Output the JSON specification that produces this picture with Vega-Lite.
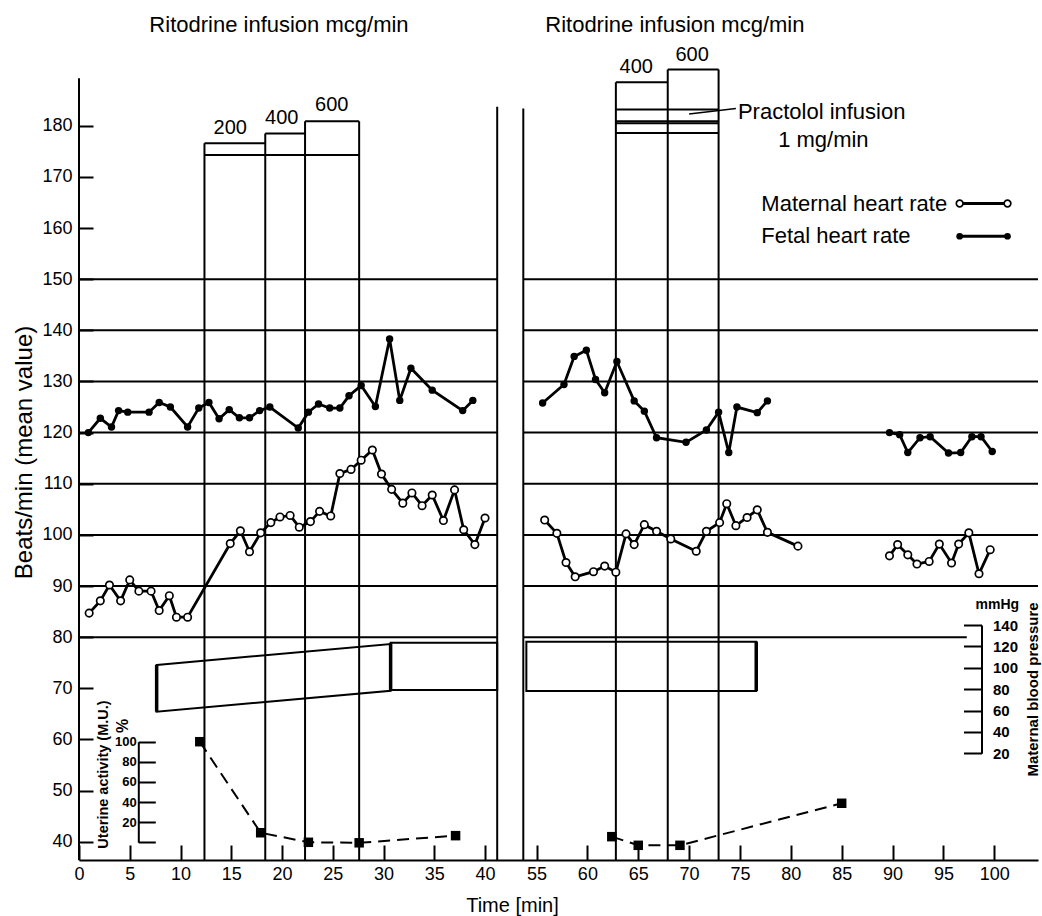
{
  "$schema": "https://vega.github.io/schema/vega-lite/v6.json",
  "width": 959,
  "height": 860,
  "autosize": {"type": "none"},
  "padding": {"left": 79, "top": 0, "right": 4, "bottom": 56},
  "background": "white",
  "config": {
    "view": {"stroke": null},
    "font": "Liberation Sans",
    "axis": {"labelColor": "black", "titleColor": "black", "domainColor": "black", "tickColor": "black", "grid": false}
  },
  "datasets": {
    "hlines": [
      {"t": 0, "t2": 41.2, "b": 80}, {"t": 0, "t2": 41.2, "b": 90}, {"t": 0, "t2": 41.2, "b": 100}, {"t": 0, "t2": 41.2, "b": 110},
      {"t": 0, "t2": 41.2, "b": 120}, {"t": 0, "t2": 41.2, "b": 130}, {"t": 0, "t2": 41.2, "b": 140}, {"t": 0, "t2": 41.2, "b": 150},
      {"t": 53.7, "t2": 97.3, "b": 80}, {"t": 53.7, "t2": 104.3, "b": 90}, {"t": 53.7, "t2": 104.3, "b": 100}, {"t": 53.7, "t2": 104.3, "b": 110},
      {"t": 53.7, "t2": 104.3, "b": 120}, {"t": 53.7, "t2": 104.3, "b": 130}, {"t": 53.7, "t2": 104.3, "b": 140}, {"t": 53.7, "t2": 104.3, "b": 150},
      {"t": 12.36, "t2": 18.35, "b": 176.6}, {"t": 18.35, "t2": 22.27, "b": 178.5}, {"t": 22.27, "t2": 27.6, "b": 180.9}, {"t": 12.36, "t2": 27.6, "b": 174.3},
      {"t": 62.8, "t2": 67.9, "b": 188.5}, {"t": 67.9, "t2": 72.9, "b": 191.0}, {"t": 62.8, "t2": 72.9, "b": 183.2}, {"t": 62.8, "t2": 72.9, "b": 180.9},
      {"t": 62.8, "t2": 72.9, "b": 180.5}, {"t": 62.8, "t2": 72.9, "b": 178.6}
    ],
    "vlines": [
      {"t": 0, "b": 36.42, "b2": 189.3}, {"t": 41.2, "b": 36.42, "b2": 183.7}, {"t": 53.7, "b": 36.42, "b2": 183.4},
      {"t": 12.36, "b": 36.42, "b2": 176.6}, {"t": 18.35, "b": 36.42, "b2": 178.5}, {"t": 22.27, "b": 36.42, "b2": 180.9}, {"t": 27.6, "b": 36.42, "b2": 180.9},
      {"t": 62.8, "b": 36.42, "b2": 188.5}, {"t": 67.9, "b": 36.42, "b2": 191.0}, {"t": 72.9, "b": 36.42, "b2": 191.0}
    ],
    "leader": [{"t": 70.0, "b": 182.3, "t2": 74.6, "b2": 183.4}],
    "fetal": [
      {"t": 0.92, "b": 120, "seg": "L"}, {"t": 2.1, "b": 122.8, "seg": "L"}, {"t": 3.2, "b": 121.1, "seg": "L"}, {"t": 3.9, "b": 124.3, "seg": "L"},
      {"t": 4.8, "b": 124.0, "seg": "L"}, {"t": 6.9, "b": 124.0, "seg": "L"}, {"t": 7.9, "b": 125.9, "seg": "L"}, {"t": 9.0, "b": 125.0, "seg": "L"},
      {"t": 10.7, "b": 121.1, "seg": "L"}, {"t": 11.8, "b": 124.8, "seg": "L"}, {"t": 12.8, "b": 125.9, "seg": "L"}, {"t": 13.8, "b": 122.7, "seg": "L"},
      {"t": 14.8, "b": 124.5, "seg": "L"}, {"t": 15.8, "b": 122.9, "seg": "L"}, {"t": 16.8, "b": 122.9, "seg": "L"}, {"t": 17.8, "b": 124.3, "seg": "L"},
      {"t": 18.8, "b": 125.0, "seg": "L"}, {"t": 21.6, "b": 120.9, "seg": "L"}, {"t": 22.6, "b": 124.0, "seg": "L"}, {"t": 23.6, "b": 125.6, "seg": "L"},
      {"t": 24.7, "b": 124.8, "seg": "L"}, {"t": 25.7, "b": 124.8, "seg": "L"}, {"t": 26.6, "b": 127.2, "seg": "L"}, {"t": 27.8, "b": 129.2, "seg": "L"},
      {"t": 29.2, "b": 125.1, "seg": "L"}, {"t": 30.6, "b": 138.3, "seg": "L"}, {"t": 31.6, "b": 126.3, "seg": "L"}, {"t": 32.7, "b": 132.6, "seg": "L"},
      {"t": 34.8, "b": 128.3, "seg": "L"}, {"t": 37.8, "b": 124.3, "seg": "L"}, {"t": 38.8, "b": 126.3, "seg": "L"},
      {"t": 55.6, "b": 125.8, "seg": "R1"}, {"t": 57.7, "b": 129.4, "seg": "R1"}, {"t": 58.7, "b": 134.9, "seg": "R1"}, {"t": 59.9, "b": 136.1, "seg": "R1"},
      {"t": 60.8, "b": 130.4, "seg": "R1"}, {"t": 61.7, "b": 127.8, "seg": "R1"}, {"t": 62.9, "b": 133.9, "seg": "R1"}, {"t": 64.6, "b": 126.2, "seg": "R1"},
      {"t": 65.6, "b": 124.2, "seg": "R1"}, {"t": 66.8, "b": 119.0, "seg": "R1"}, {"t": 69.7, "b": 118.1, "seg": "R1"}, {"t": 71.7, "b": 120.5, "seg": "R1"},
      {"t": 72.9, "b": 124.0, "seg": "R1"}, {"t": 73.9, "b": 116.1, "seg": "R1"}, {"t": 74.7, "b": 125.0, "seg": "R1"}, {"t": 76.7, "b": 123.9, "seg": "R1"},
      {"t": 77.7, "b": 126.2, "seg": "R1"},
      {"t": 89.7, "b": 120.0, "seg": "R2"}, {"t": 90.7, "b": 119.6, "seg": "R2"}, {"t": 91.5, "b": 116.1, "seg": "R2"}, {"t": 92.7, "b": 119.0, "seg": "R2"},
      {"t": 93.7, "b": 119.2, "seg": "R2"}, {"t": 95.5, "b": 116.0, "seg": "R2"}, {"t": 96.7, "b": 116.1, "seg": "R2"}, {"t": 97.8, "b": 119.2, "seg": "R2"},
      {"t": 98.7, "b": 119.2, "seg": "R2"}, {"t": 99.8, "b": 116.3, "seg": "R2"}
    ],
    "maternal": [
      {"t": 1.0, "b": 84.7, "seg": "L"}, {"t": 2.1, "b": 87.1, "seg": "L"}, {"t": 3.0, "b": 90.2, "seg": "L"}, {"t": 4.1, "b": 87.1, "seg": "L"},
      {"t": 5.0, "b": 91.2, "seg": "L"}, {"t": 5.9, "b": 89.0, "seg": "L"}, {"t": 7.1, "b": 89.0, "seg": "L"}, {"t": 7.9, "b": 85.2, "seg": "L"},
      {"t": 8.9, "b": 88.1, "seg": "L"}, {"t": 9.6, "b": 83.9, "seg": "L"}, {"t": 10.7, "b": 83.9, "seg": "L"}, {"t": 14.9, "b": 98.3, "seg": "L"},
      {"t": 15.9, "b": 100.8, "seg": "L"}, {"t": 16.8, "b": 96.7, "seg": "L"}, {"t": 17.9, "b": 100.4, "seg": "L"}, {"t": 18.9, "b": 102.4, "seg": "L"},
      {"t": 19.8, "b": 103.5, "seg": "L"}, {"t": 20.8, "b": 103.8, "seg": "L"}, {"t": 21.7, "b": 101.5, "seg": "L"}, {"t": 22.8, "b": 102.6, "seg": "L"},
      {"t": 23.7, "b": 104.6, "seg": "L"}, {"t": 24.8, "b": 103.7, "seg": "L"}, {"t": 25.7, "b": 112.0, "seg": "L"}, {"t": 26.8, "b": 112.8, "seg": "L"},
      {"t": 27.8, "b": 114.6, "seg": "L"}, {"t": 28.9, "b": 116.6, "seg": "L"}, {"t": 29.8, "b": 111.9, "seg": "L"}, {"t": 30.8, "b": 108.9, "seg": "L"},
      {"t": 31.9, "b": 106.2, "seg": "L"}, {"t": 32.8, "b": 108.2, "seg": "L"}, {"t": 33.8, "b": 105.7, "seg": "L"}, {"t": 34.8, "b": 107.8, "seg": "L"},
      {"t": 35.9, "b": 102.8, "seg": "L"}, {"t": 37.0, "b": 108.8, "seg": "L"}, {"t": 37.9, "b": 101.0, "seg": "L"}, {"t": 39.0, "b": 98.1, "seg": "L"},
      {"t": 40.0, "b": 103.3, "seg": "L"},
      {"t": 55.8, "b": 102.9, "seg": "R1"}, {"t": 57.0, "b": 100.3, "seg": "R1"}, {"t": 57.9, "b": 94.6, "seg": "R1"}, {"t": 58.8, "b": 91.8, "seg": "R1"},
      {"t": 60.6, "b": 92.8, "seg": "R1"}, {"t": 61.7, "b": 93.9, "seg": "R1"}, {"t": 62.8, "b": 92.7, "seg": "R1"}, {"t": 63.8, "b": 100.2, "seg": "R1"},
      {"t": 64.6, "b": 98.1, "seg": "R1"}, {"t": 65.6, "b": 102.0, "seg": "R1"}, {"t": 66.8, "b": 100.7, "seg": "R1"}, {"t": 68.2, "b": 99.2, "seg": "R1"},
      {"t": 70.7, "b": 96.8, "seg": "R1"}, {"t": 71.7, "b": 100.7, "seg": "R1"}, {"t": 73.0, "b": 102.4, "seg": "R1"}, {"t": 73.7, "b": 106.1, "seg": "R1"},
      {"t": 74.6, "b": 101.8, "seg": "R1"}, {"t": 75.7, "b": 103.4, "seg": "R1"}, {"t": 76.7, "b": 104.9, "seg": "R1"}, {"t": 77.7, "b": 100.5, "seg": "R1"},
      {"t": 80.7, "b": 97.8, "seg": "R1"},
      {"t": 89.7, "b": 95.9, "seg": "R2"}, {"t": 90.5, "b": 98.1, "seg": "R2"}, {"t": 91.5, "b": 96.1, "seg": "R2"}, {"t": 92.4, "b": 94.3, "seg": "R2"},
      {"t": 93.6, "b": 94.8, "seg": "R2"}, {"t": 94.6, "b": 98.2, "seg": "R2"}, {"t": 95.8, "b": 94.5, "seg": "R2"}, {"t": 96.5, "b": 98.2, "seg": "R2"},
      {"t": 97.5, "b": 100.4, "seg": "R2"}, {"t": 98.5, "b": 92.4, "seg": "R2"}, {"t": 99.6, "b": 97.1, "seg": "R2"}
    ],
    "legM": [{"t": 96.6, "b": 164.8}, {"t": 101.3, "b": 164.8}],
    "legF": [{"t": 96.6, "b": 158.4}, {"t": 101.3, "b": 158.4}],
    "ctext": [
      {"t": 19.7, "b": 199.7, "label": "Ritodrine infusion  mcg/min"},
      {"t": 68.6, "b": 199.7, "label": "Ritodrine infusion  mcg/min"},
      {"t": 83.2, "b": 177.2, "label": "1 mg/min"}
    ],
    "nums": [
      {"t": 14.9, "b": 179.5, "label": "200"},
      {"t": 19.97, "b": 181.5, "label": "400"},
      {"t": 24.9, "b": 184.1, "label": "600"},
      {"t": 64.8, "b": 191.5, "label": "400"},
      {"t": 70.3, "b": 193.8, "label": "600"}
    ],
    "ltext": [
      {"t": 74.8, "b": 182.7, "label": "Practolol infusion"},
      {"t": 77.1, "b": 164.8, "label": "Maternal heart rate"},
      {"t": 77.1, "b": 158.4, "label": "Fetal heart rate"}
    ],
    "uterine": [
      {"t": 11.9, "p": 100, "seg": "L"}, {"t": 17.9, "p": 9.5, "seg": "L"}, {"t": 22.6, "p": 0, "seg": "L"}, {"t": 27.6, "p": -0.5, "seg": "L"}, {"t": 37.1, "p": 6.6, "seg": "L"},
      {"t": 62.4, "p": 5.6, "seg": "R"}, {"t": 65.0, "p": -3, "seg": "R"}, {"t": 69.1, "p": -3, "seg": "R"}, {"t": 85.0, "p": 38.8, "seg": "R"}
    ],
    "pct": [{"t": 4.3, "p": 115.6, "label": "%"}],
    "bp": [
      {"t": 7.65, "s": 102.6, "d": 58.9, "seg": "a"}, {"t": 30.7, "s": 122.2, "d": 78.5, "seg": "a"},
      {"t": 30.7, "s": 123.4, "d": 79.2, "seg": "b"}, {"t": 41.2, "s": 123.4, "d": 79.2, "seg": "b"},
      {"t": 54.0, "s": 124.4, "d": 78.3, "seg": "c"}, {"t": 76.6, "s": 124.4, "d": 78.3, "seg": "c"}
    ],
    "bpEdges": [
      {"t": 7.65, "s": 102.6, "d": 58.9}, {"t": 30.7, "s": 123.0, "d": 78.5}, {"t": 76.6, "s": 124.4, "d": 78.3}
    ],
    "mmhg": [{"t": 100.3, "s": 158.7, "label": "mmHg"}]
  },
  "encoding": {
    "x": {
      "field": "t", "type": "quantitative",
      "scale": {"domain": [0, 41.2, 53.7, 104.3], "range": [0, 418.2, 444.3, 959], "nice": false, "zero": false},
      "axis": {
        "values": [0, 5, 10, 15, 20, 25, 30, 35, 40, 55, 60, 65, 70, 75, 80, 85, 90, 95, 100],
        "tickSize": -15, "tickWidth": 2, "domainWidth": 2, "labelPadding": 20, "labelFontSize": 18,
        "labelFlush": false, "labelOverlap": false,
        "title": "Time [min]", "titleFontSize": 20, "titleFontWeight": "normal",
        "titleX": 433, "titleY": 45, "titleBaseline": "middle", "titleAlign": "center"
      }
    }
  },
  "layer": [
    {
      "encoding": {
        "y": {
          "field": "b", "type": "quantitative",
          "scale": {"domain": [36.42, 204.6], "nice": false, "zero": false},
          "axis": {
            "values": [40, 50, 60, 70, 80, 90, 100, 110, 120, 130, 140, 150, 160, 170, 180],
            "domain": false, "tickSize": -14, "tickWidth": 2, "labelPadding": 21, "labelFontSize": 18,
            "title": "Beats/min  (mean value)", "titleFontSize": 24, "titleFontWeight": "normal",
            "titleAngle": 270, "titleX": -55, "titleY": 452, "titleBaseline": "middle", "titleAlign": "center"
          }
        }
      },
      "layer": [
        {"data": {"name": "hlines"}, "mark": {"type": "rule", "color": "black", "strokeWidth": 2}, "encoding": {"x2": {"field": "t2"}}},
        {"data": {"name": "vlines"}, "mark": {"type": "rule", "color": "black", "strokeWidth": 2}, "encoding": {"y2": {"field": "b2"}}},
        {"data": {"name": "leader"}, "mark": {"type": "rule", "color": "black", "strokeWidth": 1.5}, "encoding": {"x2": {"field": "t2"}, "y2": {"field": "b2"}}},
        {"data": {"name": "fetal"}, "mark": {"type": "line", "color": "black", "strokeWidth": 2.8, "point": {"filled": true, "color": "black", "size": 55}}, "encoding": {"detail": {"field": "seg"}}},
        {"data": {"name": "maternal"}, "mark": {"type": "line", "color": "black", "strokeWidth": 2.8, "point": {"filled": true, "fill": "white", "stroke": "black", "strokeWidth": 1.7, "size": 55}}, "encoding": {"detail": {"field": "seg"}}},
        {"data": {"name": "legM"}, "mark": {"type": "line", "color": "black", "strokeWidth": 2.8, "point": {"filled": true, "fill": "white", "stroke": "black", "strokeWidth": 1.7, "size": 45}}, "encoding": {}},
        {"data": {"name": "legF"}, "mark": {"type": "line", "color": "black", "strokeWidth": 2.8, "point": {"filled": true, "color": "black", "size": 45}}, "encoding": {}},
        {"data": {"name": "ctext"}, "mark": {"type": "text", "fontSize": 22, "align": "center", "baseline": "middle", "color": "black"}, "encoding": {"text": {"field": "label"}}},
        {"data": {"name": "nums"}, "mark": {"type": "text", "fontSize": 20, "align": "center", "baseline": "middle", "color": "black"}, "encoding": {"text": {"field": "label"}}},
        {"data": {"name": "ltext"}, "mark": {"type": "text", "fontSize": 22, "align": "left", "baseline": "middle", "color": "black"}, "encoding": {"text": {"field": "label"}}}
      ]
    },
    {
      "encoding": {
        "y": {
          "field": "p", "type": "quantitative",
          "scale": {"domain": [0, 100], "range": [842.3, 741.7], "nice": false, "zero": false},
          "axis": {
            "orient": "left", "offset": -59.3,
            "values": [0, 20, 40, 60, 80, 100], "labelExpr": "datum.value == 0 ? '' : datum.label",
            "domainWidth": 2, "tickWidth": 2, "tickSize": -17, "labelPadding": 19, "labelFontSize": 13, "labelFontWeight": "bold",
            "title": "Uterine activity (M.U.)", "titleFontSize": 14.5, "titleFontWeight": "bold",
            "titleAngle": 270, "titleX": -35, "titleY": 774, "titleBaseline": "middle", "titleAlign": "center"
          }
        }
      },
      "layer": [
        {"data": {"name": "uterine"}, "mark": {"type": "line", "color": "black", "strokeWidth": 2, "strokeDash": [12, 7]}, "encoding": {"detail": {"field": "seg"}}},
        {"data": {"name": "uterine"}, "mark": {"type": "square", "color": "black", "size": 90, "opacity": 1}},
        {"data": {"name": "pct"}, "mark": {"type": "text", "angle": 270, "fontSize": 16, "fontWeight": "bold", "align": "center", "baseline": "middle", "color": "black"}, "encoding": {"text": {"field": "label"}}}
      ]
    },
    {
      "encoding": {
        "y": {
          "field": "s", "type": "quantitative",
          "scale": {"domain": [20, 140], "range": [753.3, 625], "nice": false, "zero": false},
          "axis": {
            "orient": "right", "offset": -56.5,
            "values": [20, 40, 60, 80, 100, 120, 140],
            "domainWidth": 2, "tickWidth": 2, "tickSize": -18, "labelPadding": 29, "labelFontSize": 15, "labelFontWeight": "bold",
            "title": "Maternal blood pressure", "titleFontSize": 15, "titleFontWeight": "bold",
            "titleAngle": 270, "titleX": 51, "titleY": 689, "titleBaseline": "middle", "titleAlign": "center"
          }
        }
      },
      "layer": [
        {"data": {"name": "bp"}, "mark": {"type": "area", "fill": "transparent", "stroke": "black", "strokeWidth": 2}, "encoding": {"y2": {"field": "d"}, "detail": {"field": "seg"}}},
        {"data": {"name": "bpEdges"}, "mark": {"type": "rule", "color": "black", "strokeWidth": 3.5}, "encoding": {"y2": {"field": "d"}}},
        {"data": {"name": "mmhg"}, "mark": {"type": "text", "fontSize": 14, "fontWeight": "bold", "align": "center", "baseline": "middle", "color": "black"}, "encoding": {"text": {"field": "label"}}}
      ]
    }
  ],
  "resolve": {"scale": {"y": "independent"}, "axis": {"y": "independent"}}
}
